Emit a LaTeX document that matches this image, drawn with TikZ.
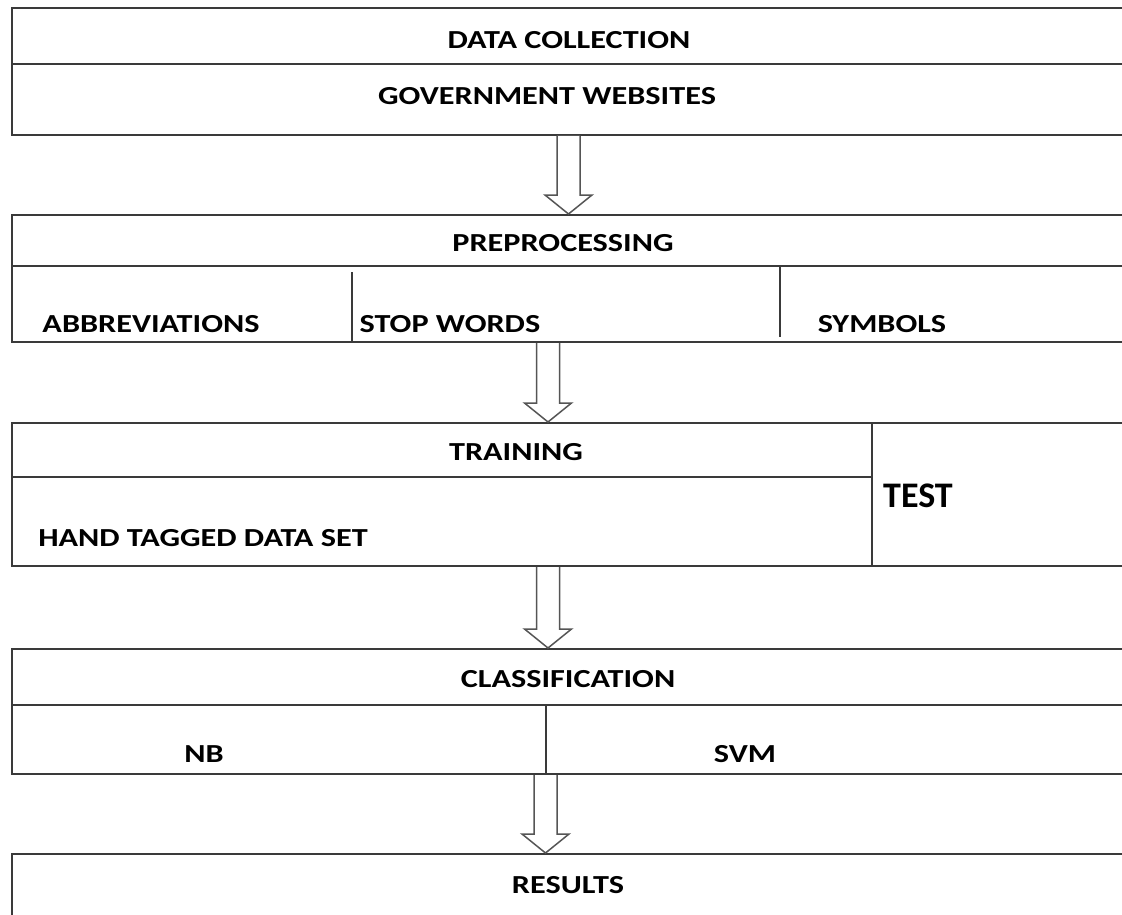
\documentclass[tikz,border=0pt]{standalone}
\usepackage{fontspec}
\setmainfont{Carlito}[FakeStretch=1.24]
\newfontfamily\plainfont{Carlito}
\usetikzlibrary{calc}
\definecolor{ln}{HTML}{3A3A3A}
\definecolor{arr}{HTML}{555555}
\tikzset{
  box/.style={draw=ln, line width=2pt, rectangle, inner sep=0pt, anchor=north west, minimum width=1125pt},
  divider/.style={draw=ln, line width=1.6pt},
  lbl/.style={inner sep=0pt, font=\bfseries\fontsize{26}{30}\selectfont, text=black},
  biglbl/.style={inner sep=0pt, font=\plainfont\bfseries\fontsize{36}{40}\selectfont, text=black},
  blk/.style={draw=arr, line width=1.5pt, fill=white, line join=miter}
}
\newcommand{\blockarr}[2]{%
  \draw[blk] ($(#1)+(-11.5,0)$) -- ($(#2)+(-11.5,-19)$) -- ($(#2)+(-23.5,-19)$) -- (#2)
    -- ($(#2)+(23.5,-19)$) -- ($(#2)+(11.5,-19)$) -- ($(#1)+(11.5,0)$);}
\begin{document}
\begin{tikzpicture}[x=1pt,y=-1pt]
\useasboundingbox (0,0) rectangle (1122,915);
\clip (0,0) rectangle (1122,915);
\fill[white] (0,0) rectangle (1122,915);
% boxes
\node[box, minimum height=127pt] (b1) at (11,7) {};
\node[box, minimum height=127pt] (b2) at (11,214) {};
\node[box, minimum height=143pt] (b3) at (11,422) {};
\node[box, minimum height=125pt] (b4) at (11,648) {};
\node[box, minimum height=120pt] (b5) at (11,853) {};
% inner lines
\draw[divider] (b1.west |- 0,64) -- (b1.east |- 0,64);
\draw[divider] (b2.west |- 0,266) -- (b2.east |- 0,266);
\draw[divider] (352,272) -- (b2.south -| 352,0);
\draw[divider] (780,266) -- (780,337);
\draw[divider] (b3.west |- 0,477) -- (872,477);
\draw[divider] (b3.north -| 872,0) -- (b3.south -| 872,0);
\draw[divider] (b4.west |- 0,705) -- (b4.east |- 0,705);
\draw[divider] (546,705) -- (b4.south -| 546,0);
% arrows
\coordinate (a1s) at (b1.south -| 568.5,0);
\coordinate (a1e) at (b2.north -| 568.5,0);
\coordinate (a2s) at (b2.south -| 548,0);
\coordinate (a2e) at (b3.north -| 548,0);
\coordinate (a3s) at (b3.south -| 548,0);
\coordinate (a3e) at (b4.north -| 548,0);
\coordinate (a4s) at (b4.south -| 545.5,0);
\coordinate (a4e) at (b5.north -| 545.5,0);
\blockarr{a1s}{a1e}
\blockarr{a2s}{a2e}
\blockarr{a3s}{a3e}
\blockarr{a4s}{a4e}
% labels
\node[lbl] (t1) at (569,40) {DATA COLLECTION};
\node[lbl] (t2) at (547,96) {GOVERNMENT WEBSITES};
\node[lbl] (t3) at (563,243) {PREPROCESSING};
\node[lbl] (t4) at (151,324) {ABBREVIATIONS};
\node[lbl] (t5) at (450,324) {STOP WORDS};
\node[lbl] (t6) at (882,324) {SYMBOLS};
\node[lbl] (t7) at (516,452) {TRAINING};
\node[biglbl] (t8) at (918,496) {TEST};
\node[lbl] (t9) at (203,538) {HAND TAGGED DATA SET};
\node[lbl] (t10) at (568,679) {CLASSIFICATION};
\node[lbl] (t11) at (204,754) {NB};
\node[lbl] (t12) at (745,754) {SVM};
\node[lbl] (t13) at (568,885) {RESULTS};
\end{tikzpicture}
\end{document}
